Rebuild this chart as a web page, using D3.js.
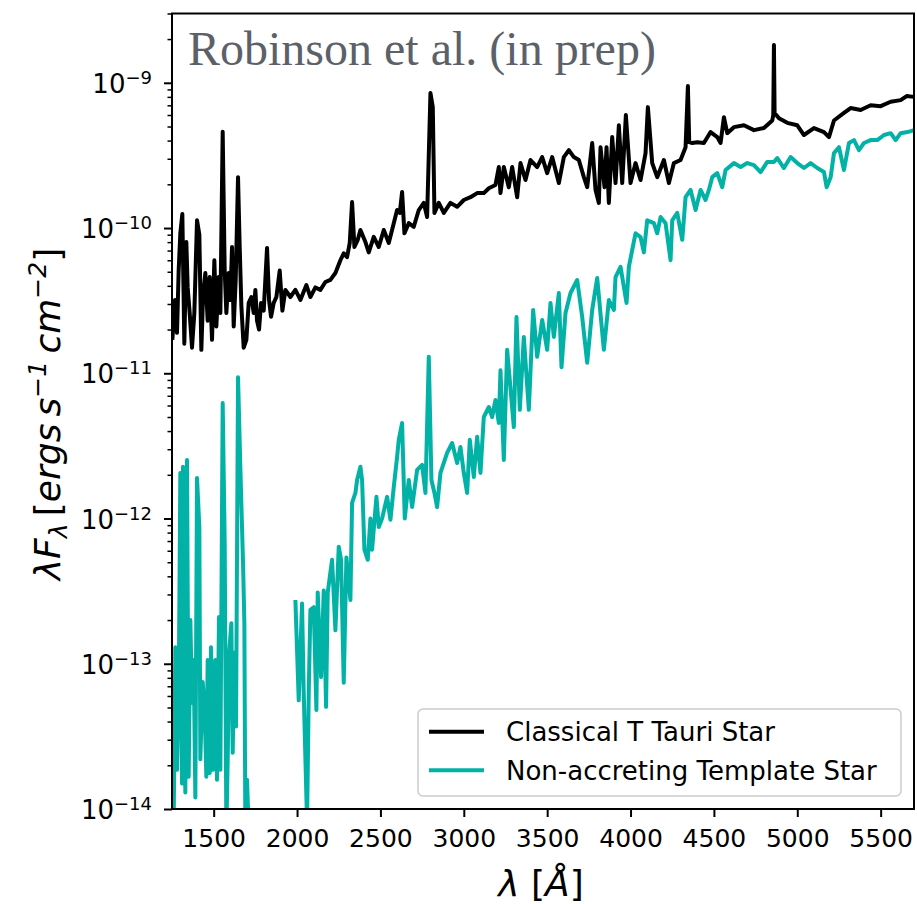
<!DOCTYPE html>
<html><head><meta charset="utf-8">
<script src="https://cdn.jsdelivr.net/npm/d3@7/dist/d3.min.js"></script>
<style>body{margin:0;background:#fff}</style>
</head><body>
<svg id="chart" width="917" height="904"></svg>
<script>
// ---------------- DATA ----------------
const seriesNames = ["Classical T Tauri Star", "Non-accreting Template Star"];
const seriesColors = ["#000000", "#02B2A6"];
const xTicks = [1500, 2000, 2500, 3000, 3500, 4000, 4500, 5000, 5500];
const yMajorTicks = [1e-14, 1e-13, 1e-12, 1e-11, 1e-10, 1e-9];
const yTickExponents = ["\u221214", "\u221213", "\u221212", "\u221211", "\u221210", "\u22129"];
const xDomain = [1250, 5700];
const yDomain = [1e-14, 3e-9];

// Classical T Tauri Star (wavelength in Angstrom, lambda F_lambda in erg s^-1 cm^-2)
const cttsWave = [
  1252,1268,1280,1290,1300,1312,1324,1336,1344,1356,
  1370,1384,1400,1414,1426,1436,1450,1464,1476,1490,
  1504,1516,1530,1540,1554,1566,1576,1590,1600,1610,
  1620,1632,1646,1656,1666,1680,1696,1710,1726,1740,
  1750,1760,1772,1784,1800,1820,1832,1844,1860,1876,
  1896,1912,1930,1960,1990,2020,2056,2080,2110,2140,
  2170,2200,2230,2260,2280,2300,2316,2330,2344,2364,
  2380,2410,2430,2460,2490,2520,2550,2580,2600,2616,
  2630,2644,2670,2700,2730,2760,2780,2800,2814,2824,
  2850,2880,2920,2960,3000,3040,3080,3120,3150,3190,
  3210,3220,3240,3270,3290,3320,3340,3370,3400,3440,
  3470,3500,3530,3570,3600,3630,3660,3690,3720,3740,
  3770,3790,3810,3820,3844,3856,3870,3890,3910,3930,
  3950,3972,4000,4030,4060,4090,4104,4130,4160,4200,
  4230,4260,4300,4330,4344,4352,4370,4400,4440,4480,4520,
  4540,4560,4580,4620,4680,4740,4800,4850,4856,4860,4864,4890,
  4940,5000,5040,5100,5160,5190,5220,5280,5320,5380,
  5440,5500,5560,5620,5656,5698
];
const cttsFlux = [
  1.7e-11,3.2e-11,1.9e-11,5.1e-11,9.2e-11,1.25e-10,1.6e-11,8.0e-11,3.9e-11,2.6e-11,
  1.5e-11,2.6e-11,1.13e-10,9.0e-11,1.45e-11,3.35e-11,4.9e-11,2.3e-11,4.6e-11,1.7e-11,
  6.0e-11,2.1e-11,4.6e-11,2.6e-11,4.6e-10,5.1e-11,2.6e-11,4.9e-11,3.2e-11,7.4e-11,
  2.1e-11,4.4e-11,2.24e-10,7.4e-11,2.9e-11,1.5e-11,1.7e-11,3.05e-11,3.35e-11,2.6e-11,
  3.75e-11,2.3e-11,2.0e-11,3.05e-11,2.7e-11,7.3e-11,3.2e-11,2.45e-11,3.05e-11,3.35e-11,
  5.1e-11,2.7e-11,3.75e-11,3.35e-11,3.75e-11,3.2e-11,4.05e-11,3.35e-11,3.9e-11,3.75e-11,
  4.25e-11,4.4e-11,4.9e-11,6.0e-11,6.7e-11,6.3e-11,7.9e-11,1.51e-10,7.4e-11,8.3e-11,
  9.7e-11,8.0e-11,6.8e-11,8.7e-11,7.4e-11,9.7e-11,7.9e-11,1.08e-10,1.33e-10,1.27e-10,
  1.77e-10,9.2e-11,1.08e-10,1.02e-10,1.33e-10,1.49e-10,1.19e-10,8.5e-10,6.8e-10,1.27e-10,
  1.49e-10,1.27e-10,1.49e-10,1.4e-10,1.56e-10,1.63e-10,1.74e-10,1.74e-10,1.88e-10,1.98e-10,
  2.63e-10,1.74e-10,2.63e-10,1.91e-10,2.63e-10,1.63e-10,2.8e-10,2.14e-10,2.94e-10,2.63e-10,
  3.08e-10,2.39e-10,3.08e-10,2.04e-10,3.08e-10,3.44e-10,3.08e-10,2.94e-10,2.24e-10,1.91e-10,
  3.85e-10,1.83e-10,1.49e-10,3.6e-10,1.91e-10,3.6e-10,1.49e-10,4.23e-10,2.04e-10,5.1e-10,
  2.04e-10,6.0e-10,2.04e-10,2.8e-10,2.14e-10,3.28e-10,6.8e-10,2.8e-10,2.24e-10,2.94e-10,
  2.04e-10,2.8e-10,2.94e-10,3.6e-10,9.5e-10,3.9e-10,3.85e-10,3.9e-10,3.85e-10,4.58e-10,4.23e-10,
  3.85e-10,5.8e-10,4.5e-10,4.95e-10,5.1e-10,4.72e-10,4.88e-10,5.5e-10,6.0e-10,1.82e-9,6.2e-10,5.7e-10,
  5.3e-10,5.1e-10,4.37e-10,4.88e-10,4.58e-10,4.23e-10,5.5e-10,6.2e-10,6.7e-10,6.5e-10,
  7.0e-10,6.9e-10,7.4e-10,7.6e-10,8.1e-10,8.0e-10
];

// Non-accreting template: far-UV segment
const templateFuvWave = [
  1252,1260,1270,1280,1290,1300,1310,1316,1324,1330,
  1340,1350,1360,1370,1380,1390,1400,1414,1420,1434,
  1446,1456,1464,1476,1484,1496,1510,1520,1532,1540,
  1554,1566,1576,1584,1594,1606,1614,1624,1634,1646,
  1660,1676,1684,1690,1700,1712
];
const templateFuvFlux = [
  5.6e-14,8e-15,1.3e-13,1.86e-14,5.6e-14,2.06e-12,1.5e-14,2.27e-12,6.3e-14,1.3e-14,
  2.53e-12,1.67e-14,2.0e-13,5.4e-14,1.06e-13,1.2e-14,1.9e-12,8.75e-13,2.2e-14,7.5e-14,
  4.8e-14,1.67e-14,1.06e-13,1.77e-14,1.3e-13,1.86e-14,1.06e-13,1.59e-14,2.1e-13,1.86e-14,
  6.25e-12,6.9e-13,7e-15,2.2e-14,1.25e-13,1.9e-13,2.44e-14,1.19e-13,3.7e-14,9.4e-12,
  2.23e-12,4.95e-13,1.9e-13,7e-15,1.59e-14,6e-15
];
// Non-accreting template: near-UV / optical segment
const templateNuvWave = [
  1990,2010,2030,2040,2060,2070,2080,2100,2116,2124,
  2144,2160,2174,2184,2210,2230,2250,2264,2280,2296,
  2320,2330,2350,2360,2380,2390,2404,2424,2440,2450,
  2476,2490,2510,2540,2560,2580,2600,2610,2630,2646,
  2670,2690,2720,2750,2770,2790,2806,2824,2840,2860,
  2900,2930,2960,2980,3000,3020,3036,3060,3080,3100,
  3120,3150,3170,3190,3210,3220,3240,3260,3300,3316,
  3336,3360,3390,3416,3440,3470,3500,3520,3540,3570,
  3586,3610,3640,3680,3710,3740,3770,3800,3840,3870,
  3900,3910,3940,3976,3990,4010,4030,4060,4080,4100,
  4140,4160,4180,4210,4240,4250,4280,4310,4330,4360,
  4390,4420,4450,4470,4490,4520,4550,4570,4620,4660,
  4700,4740,4780,4820,4860,4880,4920,4960,5000,5040,
  5080,5120,5160,5176,5200,5220,5250,5280,5310,5340,
  5370,5400,5440,5480,5520,5560,5590,5620,5660,5700
];
const templateNuvFlux = [
  2.75e-13,5.6e-14,2.6e-13,6.3e-14,8e-15,6.3e-14,2.35e-13,2.45e-13,4.8e-14,3.1e-13,
  8.1e-14,3.2e-13,5.05e-14,3.1e-13,5.2e-13,1.7e-13,6.4e-13,5.2e-13,7.4e-14,5.4e-13,
  2.75e-13,1.28e-12,1.5e-12,1.84e-12,2.27e-12,1.84e-12,6.1e-13,5.2e-13,1.0e-12,6.1e-13,
  1.41e-12,8.75e-13,1.0e-12,1.41e-12,9.8e-13,1.65e-12,2.65e-12,3.48e-12,4.55e-12,1.0e-12,
  1.84e-12,1.2e-12,2.16e-12,2.34e-12,1.5e-12,1.3e-11,1.84e-12,1.5e-12,1.2e-12,2.06e-12,
  2.83e-12,3.31e-12,2.41e-12,3.11e-12,2.06e-12,1.5e-12,3.48e-12,1.93e-12,3.65e-12,2.06e-12,
  5.0e-12,5.86e-12,5.0e-12,6.55e-12,4.55e-12,1.05e-11,2.53e-12,1.45e-11,4.27e-12,2.44e-11,
  5.6e-12,1.78e-11,5.6e-12,2.73e-11,1.3e-11,2.33e-11,1.45e-11,3.05e-11,1.78e-11,3.57e-11,
  1.1e-11,2.6e-11,3.57e-11,4.39e-11,2.44e-11,1.18e-11,2.73e-11,4.53e-11,1.45e-11,3.19e-11,
  2.73e-11,4.6e-11,5.4e-11,3.05e-11,5.4e-11,7.06e-11,9.2e-11,8.67e-11,6.8e-11,1.13e-10,
  1.08e-10,9.2e-11,1.19e-10,1.08e-10,6.0e-11,1.13e-10,1.27e-10,8.3e-11,1.63e-10,1.83e-10,
  1.33e-10,1.83e-10,1.56e-10,1.83e-10,2.24e-10,2.39e-10,1.91e-10,2.51e-10,2.8e-10,2.63e-10,
  2.8e-10,2.71e-10,2.43e-10,2.85e-10,2.85e-10,3.03e-10,2.59e-10,3.08e-10,2.8e-10,2.59e-10,
  2.8e-10,2.59e-10,2.43e-10,1.91e-10,2.24e-10,3.28e-10,3.6e-10,2.51e-10,3.85e-10,4.03e-10,
  3.44e-10,3.85e-10,4.03e-10,4.03e-10,4.37e-10,4.5e-10,4.03e-10,4.5e-10,4.58e-10,4.72e-10
];
const annotationText = "Robinson et al. (in prep)";

// ---------------- CHART ----------------
const svg = d3.select("#chart");
const P = {left: 172, right: 914, top: 13.5, bottom: 809};
const x = d3.scaleLinear().domain(xDomain).range([P.left, P.right]);
const y = d3.scaleLog().domain(yDomain).range([P.bottom, P.top]);

svg.append("rect").attr("width", 917).attr("height", 904).attr("fill", "#fff");

svg.append("defs").append("clipPath").attr("id", "plotclip")
  .append("rect").attr("x", P.left).attr("y", P.top)
  .attr("width", P.right - P.left).attr("height", P.bottom - P.top);

const line = d3.line().x(d => x(d[0])).y(d => y(d[1]));
const plot = svg.append("g").attr("clip-path", "url(#plotclip)");

const series = [
  {data: d3.zip(cttsWave, cttsFlux), color: seriesColors[0]},
  {data: d3.zip(templateFuvWave, templateFuvFlux), color: seriesColors[1]},
  {data: d3.zip(templateNuvWave, templateNuvFlux), color: seriesColors[1]}
];
series.forEach(s => {
  plot.append("path").datum(s.data)
    .attr("d", line).attr("fill", "none")
    .attr("stroke", s.color).attr("stroke-width", 4)
    .attr("stroke-linejoin", "round").attr("stroke-linecap", "butt");
});

// annotation
svg.append("text").attr("x", 188).attr("y", 65)
  .attr("font-family", "'Liberation Serif', 'DejaVu Serif', serif")
  .attr("font-size", 48).attr("fill", "#5c6169")
  .text(annotationText);

// x axis
const xAxis = svg.append("g").attr("transform", `translate(0,${P.bottom})`)
  .call(d3.axisBottom(x).tickValues(xTicks).tickSize(8).tickPadding(12).tickFormat(d3.format("d")));
xAxis.select(".domain").remove();
xAxis.selectAll(".tick line").attr("stroke", "#000").attr("stroke-width", 2);
xAxis.selectAll(".tick text").attr("font-family", "'DejaVu Sans', sans-serif")
  .attr("font-size", 25).attr("fill", "#000");

// y axis minor ticks
const yMinor = [];
for (let e = -14; e <= -9; e++) for (let m = 2; m <= 9; m++) {
  const v = m * Math.pow(10, e);
  if (v <= yDomain[1] * 1.0001) yMinor.push(v);
}
const yMinorAxis = svg.append("g").attr("transform", `translate(${P.left},0)`)
  .call(d3.axisLeft(y).tickValues(yMinor).tickSize(4.5).tickFormat(() => ""));
yMinorAxis.select(".domain").remove();
yMinorAxis.selectAll(".tick line").attr("stroke", "#000").attr("stroke-width", 1.5);

// y axis major
const yAxis = svg.append("g").attr("transform", `translate(${P.left},0)`)
  .call(d3.axisLeft(y).tickValues(yMajorTicks).tickSize(8).tickPadding(12).tickFormat(() => ""));
yAxis.select(".domain").remove();
yAxis.selectAll(".tick line").attr("stroke", "#000").attr("stroke-width", 2);
yAxis.selectAll(".tick text").each(function(d, i) {
  const t = d3.select(this).attr("dy", null).attr("y", 9.5)
    .attr("font-family", "'DejaVu Sans', sans-serif").attr("fill", "#000");
  t.append("tspan").attr("font-size", 26).text("10");
  t.append("tspan").attr("font-size", 18).attr("dy", -9).text(yTickExponents[yMajorTicks.indexOf(d)]);
});

// frame
svg.append("rect").attr("x", P.left).attr("y", P.top)
  .attr("width", P.right - P.left).attr("height", P.bottom - P.top)
  .attr("fill", "none").attr("stroke", "#000").attr("stroke-width", 2);

// axis labels
svg.append("text").attr("x", 541).attr("y", 896)
  .attr("text-anchor", "middle").attr("font-family", "'DejaVu Sans', sans-serif")
  .attr("font-size", 36).attr("font-style", "italic").attr("fill", "#000")
  .call(t => {
    t.append("tspan").text("\u03bb ");
    t.append("tspan").attr("font-style", "normal").text("[");
    t.append("tspan").text("\u00c5");
    t.append("tspan").attr("font-style", "normal").text("]");
  });

const ylab = svg.append("text").attr("transform", "translate(60,414) rotate(-90)")
  .attr("text-anchor", "middle").attr("font-family", "'DejaVu Sans', sans-serif")
  .attr("font-size", 36).attr("font-style", "italic").attr("fill", "#000");
ylab.append("tspan").text("\u03bbF");
ylab.append("tspan").attr("font-size", 25).attr("dy", 7).text("\u03bb");
ylab.append("tspan").attr("dy", -7).attr("font-style", "normal").text("\u2009[");
ylab.append("tspan").text("ergs\u2009s");
ylab.append("tspan").attr("font-size", 25).attr("dy", -14).text("\u22121");
ylab.append("tspan").attr("dy", 14).text("\u2009cm");
ylab.append("tspan").attr("font-size", 25).attr("dy", -14).text("\u22122");
ylab.append("tspan").attr("dy", 14).attr("font-style", "normal").text("]");

// legend
const lg = svg.append("g");
lg.append("rect").attr("x", 418).attr("y", 709).attr("width", 483).attr("height", 87)
  .attr("rx", 5).attr("fill", "#fff").attr("fill-opacity", 0.8)
  .attr("stroke", "#cccccc").attr("stroke-width", 1.5);
seriesNames.forEach((name, i) => {
  const yy = 731.7 + i * 38.5;
  lg.append("line").attr("x1", 429).attr("x2", 484).attr("y1", yy).attr("y2", yy)
    .attr("stroke", seriesColors[i]).attr("stroke-width", 4);
  lg.append("text").attr("x", 506).attr("y", yy + 9.5)
    .attr("font-family", "'DejaVu Sans', sans-serif").attr("font-size", 26)
    .attr("fill", "#000").text(name);
});
</script>
</body></html>
